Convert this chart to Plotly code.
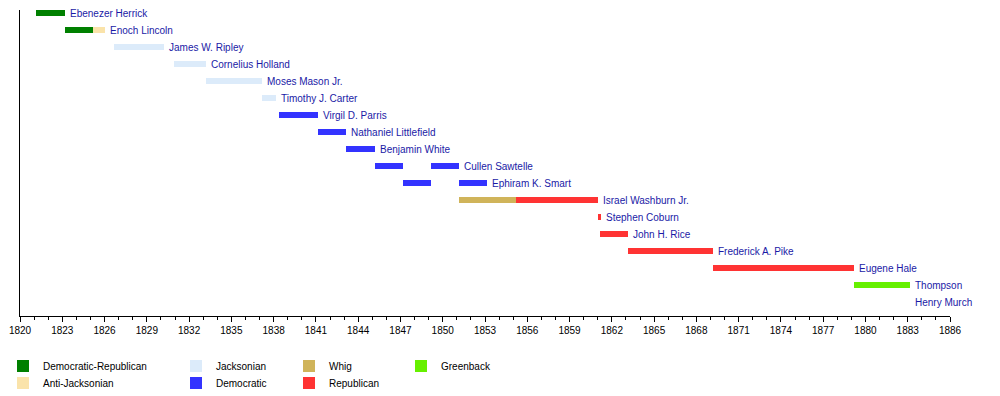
import plotly.graph_objects as go

# ---- data ----
names = ["Ebenezer Herrick", "Enoch Lincoln", "James W. Ripley", "Cornelius Holland",
         "Moses Mason Jr.", "Timothy J. Carter", "Virgil D. Parris", "Nathaniel Littlefield",
         "Benjamin White", "Cullen Sawtelle", "Ephiram K. Smart", "Israel Washburn Jr.",
         "Stephen Coburn", "John H. Rice", "Frederick A. Pike", "Eugene Hale",
         "Thompson\nHenry Murch"]

# term segments: (member index, start year, end year, party)
seg_member = [0, 1, 1, 2, 3, 4, 5, 6, 7, 8, 9, 9, 10, 10, 11, 11, 12, 13, 14, 15, 16]
seg_start = [1821.17, 1823.17, 1825.17, 1826.70, 1830.93, 1833.17, 1837.17, 1838.40,
             1841.17, 1843.17, 1845.17, 1849.17, 1847.17, 1851.17, 1851.17, 1855.17,
             1861.00, 1861.17, 1863.17, 1869.17, 1879.17]
seg_end = [1823.17, 1825.17, 1826.06, 1830.19, 1833.17, 1837.17, 1838.20, 1841.17,
           1843.17, 1845.17, 1847.17, 1851.17, 1849.17, 1853.17, 1855.17, 1861.00,
           1861.25, 1863.17, 1869.17, 1879.17, 1883.17]
seg_party = ["Democratic-Republican", "Democratic-Republican", "Anti-Jacksonian",
             "Jacksonian", "Jacksonian", "Jacksonian", "Jacksonian",
             "Democratic", "Democratic", "Democratic", "Democratic", "Democratic",
             "Democratic", "Democratic", "Whig", "Republican",
             "Republican", "Republican", "Republican", "Republican", "Greenback"]

parties = ["Democratic-Republican", "Anti-Jacksonian", "Jacksonian", "Democratic",
           "Whig", "Republican", "Greenback"]
party_colors = ["#008000", "#FAE3AA", "#DCEBFA", "#3333FF", "#D0B45A", "#FF3333", "#66F000"]

year_min, year_max = 1820, 1886

fig = go.Figure()
for k, (p, col) in enumerate(zip(parties, party_colors)):
    idx = [i for i, q in enumerate(seg_party) if q == p]
    fig.add_trace(go.Bar(
        orientation="h",
        y=[seg_member[i] for i in idx],
        base=[seg_start[i] for i in idx],
        x=[seg_end[i] - seg_start[i] for i in idx],
        width=0.36,
        marker=dict(color=col, line=dict(width=0)),
        name=p,
        legend="legend" if k == 0 else f"legend{k + 1}",
        showlegend=True,
        hoverinfo="name",
    ))

# name labels at the end of each member's last term
for m, nm in enumerate(names):
    end = max(seg_end[i] for i in range(len(seg_member)) if seg_member[i] == m)
    for k, line in enumerate(nm.split("\n")):
        fig.add_annotation(x=end, y=m + k, text=line, showarrow=False,
                           xanchor="left", yanchor="middle", xshift=3,
                           font=dict(size=10, color="#1A1AA6"))

n_rows = len(names) + 1
fig.update_layout(
    width=992, height=388,
    margin=dict(l=12, r=50, t=2, b=80, autoexpand=False),
    paper_bgcolor="white", plot_bgcolor="white",
    font=dict(family="Liberation Sans, Arial, sans-serif", size=10, color="#000"),
    barmode="overlay",
    bargap=0,
    xaxis=dict(range=[year_min, year_max], tick0=year_min, dtick=3,
               ticks="outside", ticklen=5, tickcolor="#000", tickwidth=1,
               showline=True, linecolor="#000", linewidth=1,
               showgrid=False, zeroline=False,
               minor=dict(dtick=1, ticks="outside", ticklen=3, tickcolor="#000", showgrid=False),
               tickfont=dict(size=10, color="#000")),
    yaxis=dict(range=[n_rows - 1 + 14 / 17, -3 / 17], showticklabels=False,
               showline=True, linecolor="#000", linewidth=1,
               showgrid=False, zeroline=False, ticks=""),
)

# legend layout: 4 columns x 2 rows, one legend box per entry
col_px = [3, 176, 289, 401]
row_px = [366, 383]
slot = [(0, 0), (0, 1), (1, 0), (1, 1), (2, 0), (2, 1), (3, 0)]
for k, (c, r) in enumerate(slot):
    key = "legend" if k == 0 else f"legend{k + 1}"
    fig.update_layout({key: dict(
        x=(col_px[c] - 20) / 930, y=(316 - row_px[r]) / 306,
        xanchor="left", yanchor="middle", orientation="v",
        font=dict(size=10, color="#000"), bgcolor="rgba(0,0,0,0)",
        itemclick=False, itemdoubleclick=False)})

fig.write_html("out.html")
